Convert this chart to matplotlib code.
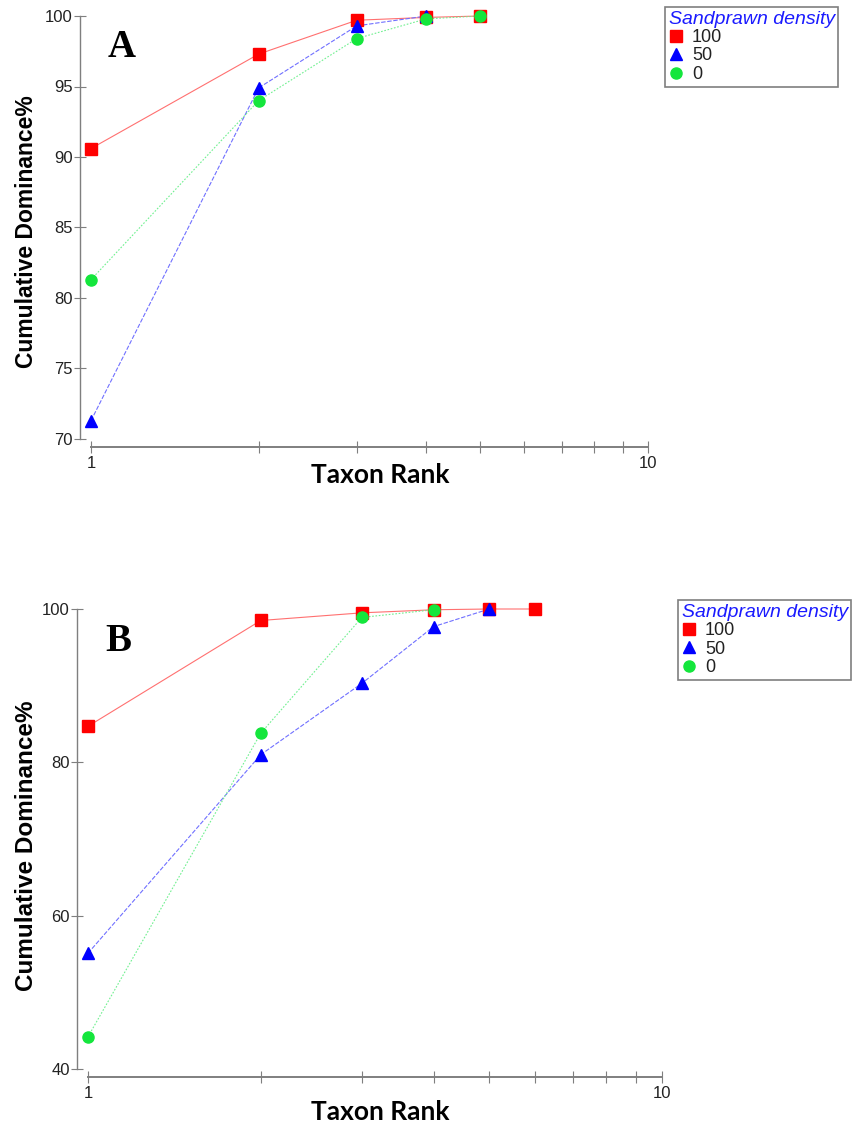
import matplotlib
matplotlib.use("Agg")
import matplotlib.pyplot as plt
from matplotlib.lines import Line2D

# Panel A: cumulative dominance by taxon rank
a_rank_100 = [1, 2, 3, 4, 5]
a_dom_100 = [90.6, 97.3, 99.7, 99.9, 100.0]
a_rank_50 = [1, 2, 3, 4]
a_dom_50 = [71.3, 94.9, 99.3, 100.0]
a_rank_0 = [1, 2, 3, 4, 5]
a_dom_0 = [81.3, 94.0, 98.4, 99.8, 100.0]

# Panel B
b_rank_100 = [1, 2, 3, 4, 5, 6]
b_dom_100 = [84.7, 98.5, 99.5, 99.9, 100.0, 100.0]
b_rank_50 = [1, 2, 3, 4, 5]
b_dom_50 = [55.1, 81.0, 90.3, 97.7, 100.0]
b_rank_0 = [1, 2, 3, 4]
b_dom_0 = [44.2, 83.8, 98.9, 99.9]

density_labels = ["100", "50", "0"]
a_yticks = [70, 75, 80, 85, 90, 95, 100]
b_yticks = [40, 60, 80, 100]

RED = "#ff0000"
BLUE = "#0000ff"
GREEN = "#14e63c"
SPINE = "#7f7f7f"
TXT = "#222222"

W, H = 860, 1133
fig = plt.figure(figsize=(W / 100, H / 100), dpi=100)


def px_axes(left, right, top, bottom):
    return fig.add_axes([left / W, 1 - bottom / H, (right - left) / W, (bottom - top) / H])


def draw_panel(ax, series, ylim, yticks, letter):
    (r1, d1), (r2, d2), (r3, d3) = series
    ax.plot(r1, d1, color="#ff7070", lw=0.8, ls="-", zorder=2, clip_on=False)
    ax.plot(r2, d2, color="#7070ff", lw=0.8, ls=(0, (4, 1.5)), zorder=2, clip_on=False)
    ax.plot(r3, d3, color="#70f090", lw=0.8, ls=(0, (1.5, 1.5)), zorder=2, clip_on=False)
    ax.plot(r1, d1, ls="none", marker="s", ms=8.5, color=RED, mec=RED, zorder=3, clip_on=False)
    ax.plot(r2, d2, ls="none", marker="^", ms=9, color=BLUE, mec=BLUE, zorder=4, clip_on=False)
    ax.plot(r3, d3, ls="none", marker="o", ms=8, color=GREEN, mec=GREEN, zorder=5, clip_on=False)

    ax.set_xscale("log")
    ax.set_xlim(1, 10)
    ax.set_ylim(*ylim)
    ax.set_xticks([1, 10])
    ax.set_xticklabels(["1", "10"])
    ax.set_xticks([2, 3, 4, 5, 6, 7, 8, 9], minor=True)
    ax.set_xticklabels([], minor=True)
    ax.set_yticks(yticks)
    ax.set_yticklabels([str(t) for t in yticks])

    for s in ["top", "right"]:
        ax.spines[s].set_visible(False)
    ax.spines["left"].set_position(("outward", 8))
    ax.spines["bottom"].set_position(("outward", 6))
    ax.spines["left"].set_color(SPINE)
    ax.spines["bottom"].set_color(SPINE)
    ax.spines["left"].set_linewidth(1.0)
    ax.spines["bottom"].set_linewidth(1.4)
    ax.tick_params(axis="both", which="both", direction="inout", color=SPINE,
                   labelcolor=TXT, labelsize=12, length=8, width=0.8)
    ax.tick_params(axis="x", pad=2)
    ax.tick_params(axis="y", pad=1)
    for lab in ax.get_xticklabels() + ax.get_yticklabels():
        lab.set_family("Liberation Sans")
    ax.patch.set_alpha(0)

    ax.text(0.03, 0.97, letter, transform=ax.transAxes, ha="left", va="top",
            family="Liberation Serif", fontweight="bold", fontsize=28, color="black")


def add_legend(left, top):
    handles = [
        Line2D([], [], ls="none", marker="s", ms=8, color=RED),
        Line2D([], [], ls="none", marker="^", ms=8.5, color=BLUE),
        Line2D([], [], ls="none", marker="o", ms=8, color=GREEN),
    ]
    leg = fig.legend(handles, density_labels, title="Sandprawn density",
                     loc="upper left", bbox_to_anchor=(left / W, 1 - top / H),
                     bbox_transform=fig.transFigure, frameon=True, fancybox=False,
                     edgecolor=SPINE, framealpha=1, borderpad=0.2, labelspacing=0.08,
                     handlelength=0.8, handletextpad=0.5, borderaxespad=0,
                     alignment="left", prop={"family": "Liberation Sans", "size": 13})
    leg.get_title().set_color("#1a1aff")
    leg.get_title().set_fontstyle("italic")
    leg.get_title().set_family("Liberation Sans")
    leg.get_title().set_fontsize(14)
    for t in leg.get_texts():
        t.set_color(TXT)
    leg.get_frame().set_linewidth(1.2)


ax_a = px_axes(91, 648, 16, 439)
draw_panel(ax_a, [(a_rank_100, a_dom_100), (a_rank_50, a_dom_50), (a_rank_0, a_dom_0)],
           (70, 100), a_yticks, "A")
add_legend(665, 7)
fig.text(27 / W, 1 - 232 / H, "Cumulative Dominance%", rotation=90, ha="center", va="center",
         family="Liberation Sans", fontweight="bold", fontsize=16.5, color="black")
fig.text(380 / W, 1 - 475 / H, "Taxon Rank", ha="center", va="center",
         family="Lato", fontweight="bold", fontsize=19, color="black")

ax_b = px_axes(88, 662, 609, 1069)
draw_panel(ax_b, [(b_rank_100, b_dom_100), (b_rank_50, b_dom_50), (b_rank_0, b_dom_0)],
           (40, 100), b_yticks, "B")
add_legend(678, 600)
fig.text(27 / W, 1 - 846 / H, "Cumulative Dominance%", rotation=90, ha="center", va="center",
         family="Liberation Sans", fontweight="bold", fontsize=17.5, color="black")
fig.text(380 / W, 1 - 1112 / H, "Taxon Rank", ha="center", va="center",
         family="Lato", fontweight="bold", fontsize=19, color="black")

fig.savefig("out.png", dpi=100, facecolor="white")
